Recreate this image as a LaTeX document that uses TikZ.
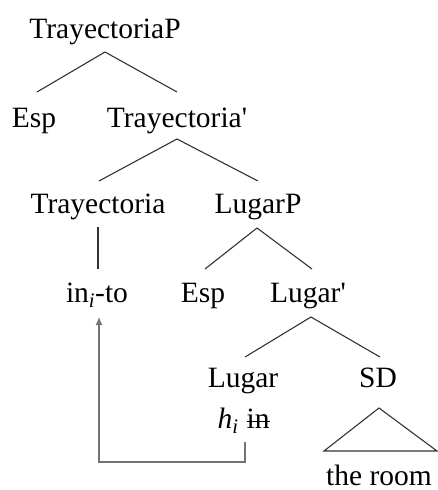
\documentclass[tikz,border=0pt]{standalone}
\usepackage{fontspec}
\setmainfont{Liberation Serif}
\usetikzlibrary{arrows.meta}
\newcommand{\strikeword}[1]{\tikz[baseline=(sw.base)]{\node[inner sep=0pt,outer sep=0pt] (sw) {#1}; \draw[line width=1.3pt,black] ([yshift=0.23em]sw.base west) -- ([yshift=0.23em]sw.base east);}}
\begin{document}
\begin{tikzpicture}[x=1pt,y=-1pt,
  lab/.style={anchor=base,inner sep=0pt,font=\fontsize{29.5}{32}\selectfont},
  branch/.style={draw=black!80,line width=1.1pt},
  movearrow/.style={draw=black!55,line width=1.1pt,-{Latex[length=8pt,width=7pt]}}]
\useasboundingbox (0,0) rectangle (437,490);
% nodes
\node[lab] (TP) at (105,38) {TrayectoriaP};
\node[lab] (Esp1) at (34,127) {Esp};
\node[lab] (Tb) at (177,127) {Trayectoria\textquotesingle};
\node[lab] (T) at (98,213) {Trayectoria};
\node[lab] (LP) at (258,213) {LugarP};
\node[lab] (into) at (97,302) {in\textsubscript{\textit{i}}-to};
\node[lab] (Esp2) at (203,302) {Esp};
\node[lab] (Lb) at (308,302) {Lugar\textquotesingle};
\node[lab] (L) at (243,387) {Lugar};
\node[lab] (SD) at (378,387) {SD};
\node[lab] (hin) at (244,428) {\textit{h}\textsubscript{\textit{i}} \strikeword{in}};
\node[lab] (room) at (379,485) {the room};
% branch points
\coordinate (TPb) at (105,52);
\coordinate (Esp1t) at (37,92);
\coordinate (Tbt) at (177,92);
\coordinate (Tbb) at (177,139);
\coordinate (Tt) at (99,181);
\coordinate (LPt) at (258,181);
\coordinate (Tb2) at (98,227);
\coordinate (intot) at (98,269);
\coordinate (LPb) at (257,228);
\coordinate (Esp2t) at (205,269);
\coordinate (Lbt) at (312,269);
\coordinate (Lbb) at (311,317);
\coordinate (Lt) at (245,357);
\coordinate (SDt) at (380,357);
\coordinate (triA) at (379,408);
\coordinate (triL) at (324,451);
\coordinate (triR) at (437,451);
\coordinate (arrS) at (245,442);
\coordinate (arrC1) at (245,462);
\coordinate (arrC2) at (99,462);
\coordinate (arrE) at (99,317);
% branches
\draw[branch] (Esp1t) -- (TPb) -- (Tbt);
\draw[branch] (Tt) -- (Tbb) -- (LPt);
\draw[branch] (Tb2) -- (intot);
\draw[branch] (Esp2t) -- (LPb) -- (Lbt);
\draw[branch] (Lt) -- (Lbb) -- (SDt);
\draw[branch] (triL) -- (triA) -- (triR) -- cycle;
% movement arrow
\draw[movearrow] (arrS) -- (arrC1) -- (arrC2) -- (arrE);
\end{tikzpicture}
\end{document}
